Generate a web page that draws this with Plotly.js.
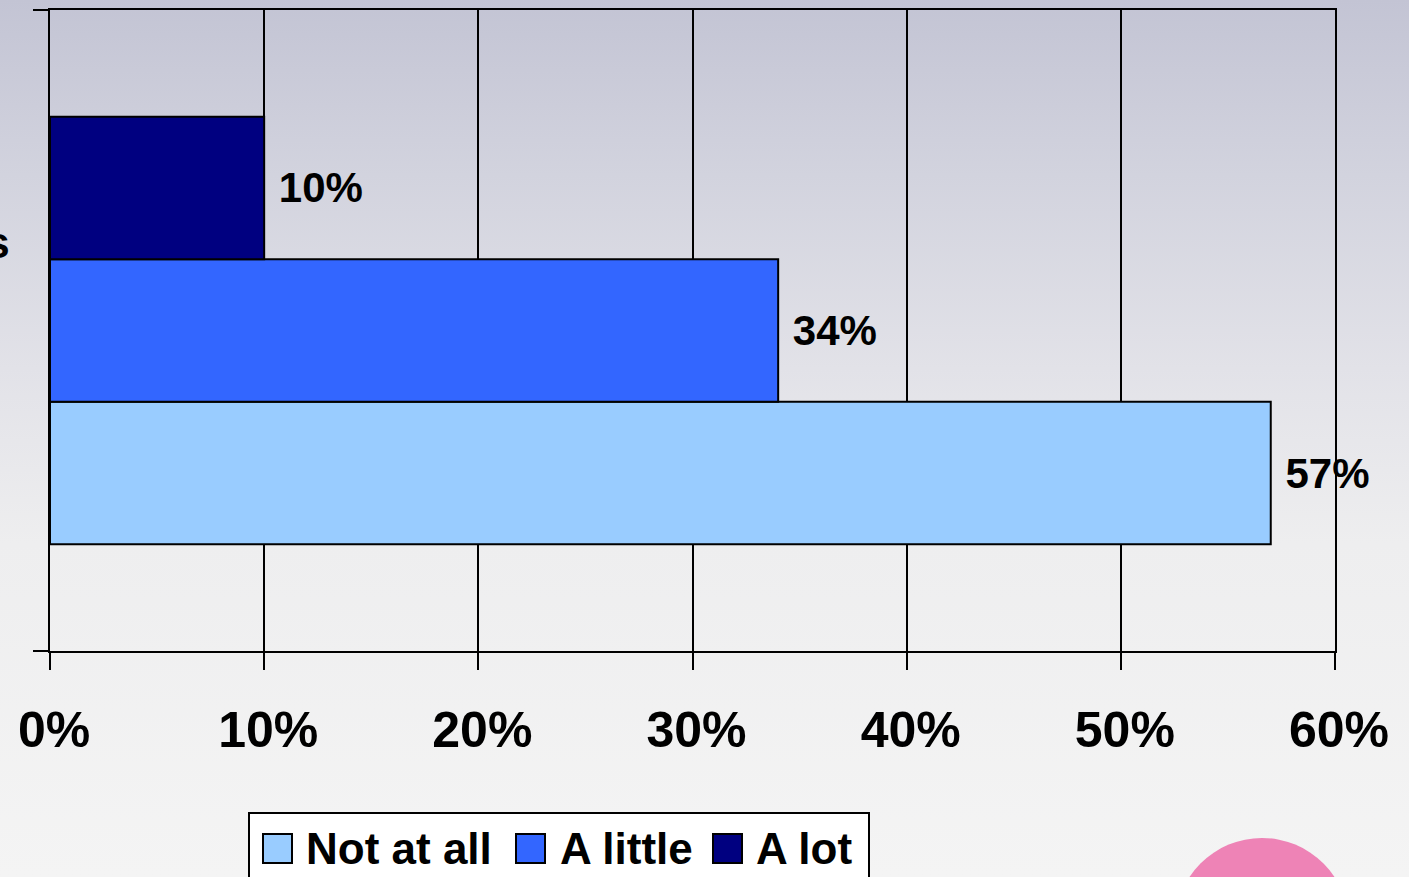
<!DOCTYPE html>
<html>
<head>
<meta charset="utf-8">
<script src="https://cdn.plot.ly/plotly-3.0.1.min.js"></script>
<style>
  html, body { margin: 0; padding: 0; width: 1409px; height: 877px; overflow: hidden; }
  body { background: linear-gradient(to bottom, #c3c4d4 0%, #d2d3de 20%, #e2e2e8 42%, #eeeeef 62%, #f4f4f4 100%); }
  #chart { width: 1409px; height: 877px; }
</style>
</head>
<body>
<div id="chart"></div>
<script>
// Data
const categories = ["Respondents"];
const seriesNames = ["Not at all", "A little", "A lot"];
const notAtAll = [0.57];
const aLittle = [0.34];
const aLot = [0.10];
const xTickVals = [0, 0.1, 0.2, 0.3, 0.4, 0.5, 0.6];
const xTickText = ["0%", "10%", "20%", "30%", "40%", "50%", "60%"];

const colors = ["#99ccff", "#3366ff", "#000080"];
const seriesValues = [notAtAll, aLittle, aLot];

const FONT = "Liberation Sans, Arial, sans-serif";

const traces = seriesValues.map((vals, i) => ({
  type: "bar",
  orientation: "h",
  name: seriesNames[i],
  x: vals,
  y: categories,
  marker: { color: colors[i], line: { color: "#000", width: 2 } },
  text: vals.map(v => "\u00a0" + Math.round(v * 100) + "%"),
  textposition: "outside",
  cliponaxis: false,
  textfont: { family: FONT, size: 42, color: "#000", weight: "bold" },
  hoverinfo: "skip",
  showlegend: false
}));

// plot area in pixels: x 50..1335, y 10..651
const px = x => (x - 50) / 1285;
const py = y => 1 - (y - 10) / 641;

// legend built from series names / colours
const legendSwatchX = [263, 516, 713];
const legendTextX = [306, 560, 756];
const shapes = [
  {
    type: "circle", xref: "paper", yref: "paper",
    x0: px(1175), x1: px(1349), y0: py(1012), y1: py(838),
    fillcolor: "rgba(236,110,170,0.85)", line: { width: 0 }, layer: "below"
  },
  {
    type: "rect", xref: "paper", yref: "paper",
    x0: px(249), x1: px(869), y0: py(890), y1: py(813),
    fillcolor: "#ffffff", line: { color: "#000", width: 2 }
  }
];
const annotations = [{
  xref: "paper", yref: "paper",
  x: px(12), y: py(243),
  xanchor: "right", yanchor: "middle",
  text: categories[0],
  showarrow: false,
  font: { family: FONT, size: 44, weight: "bold", color: "#000" }
}];
seriesNames.forEach((name, i) => {
  shapes.push({
    type: "rect", xref: "paper", yref: "paper",
    x0: px(legendSwatchX[i]), x1: px(legendSwatchX[i] + 29),
    y0: py(863), y1: py(834),
    fillcolor: colors[i], line: { color: "#000", width: 2 }
  });
  annotations.push({
    xref: "paper", yref: "paper",
    x: px(legendTextX[i] - 2), y: py(848),
    xanchor: "left", yanchor: "middle",
    text: "<b>" + name + "</b>",
    showarrow: false,
    font: { family: FONT, size: 44, color: "#000" }
  });
});

const layout = {
  width: 1409,
  height: 877,
  margin: { l: 50, r: 74, t: 10, b: 226 },
  paper_bgcolor: "rgba(0,0,0,0)",
  plot_bgcolor: "rgba(0,0,0,0)",
  barmode: "group",
  bargap: 0.333,
  bargroupgap: 0,
  font: { family: FONT, color: "#000" },
  xaxis: {
    range: [0, 0.6],
    tickvals: xTickVals,
    ticktext: xTickText,
    ticks: "outside",
    ticklen: 17,
    tickwidth: 2,
    tickcolor: "#000",
    ticklabelstandoff: 17,
    ticklabelshift: 4,
    showgrid: true,
    gridcolor: "#000",
    gridwidth: 2,
    zeroline: false,
    showline: true,
    linecolor: "#000",
    linewidth: 2,
    mirror: true,
    tickfont: { family: FONT, size: 50, weight: "bold", color: "#000" },
    fixedrange: true
  },
  yaxis: {
    type: "category",
    range: [-0.5, 0.5],
    ticks: "outside",
    tickson: "boundaries",
    ticklen: 15,
    tickwidth: 2,
    tickcolor: "#000",
    showticklabels: false,
    showgrid: false,
    showline: true,
    linecolor: "#000",
    linewidth: 2,
    mirror: true,
    fixedrange: true
  },
  showlegend: false,
  annotations: annotations,
  shapes: shapes
};

Plotly.newPlot("chart", traces, layout, { staticPlot: true, displayModeBar: false });
</script>
</body>
</html>
